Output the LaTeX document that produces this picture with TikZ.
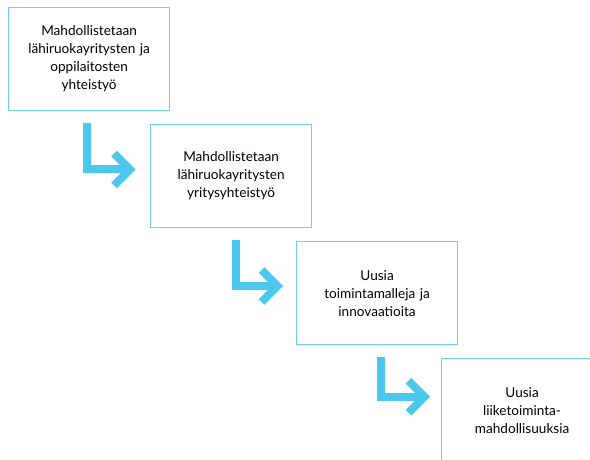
\documentclass[tikz,border=0pt]{standalone}
\usepackage{fontspec}
\setmainfont{Lato}
\definecolor{boxblue}{RGB}{110,208,242}
\definecolor{arrblue}{RGB}{76,200,238}
\begin{document}
\begin{tikzpicture}[x=1pt,y=-1pt,
  stepbox/.style={draw=boxblue,line width=1.2pt,fill=white,minimum width=161pt,minimum height=103pt,
    text width=150pt,align=center,inner sep=0pt,font=\fontsize{13.6}{18}\selectfont,anchor=north west},
  elbowline/.style={draw=arrblue,line width=8pt},
  chevron/.style={draw=arrblue,line width=8pt,miter limit=10}]
\useasboundingbox (0,0) rectangle (590,460);
\clip (0,0) rectangle (590,460);
\node[stepbox] (b1) at (8,7) {Mahdollistetaan\\lähiruokayritysten ja\\oppilaitosten\\yhteistyö};
\node[stepbox] (b2) at (150,124) {Mahdollistetaan\\lähiruokayritysten\\yritysyhteistyö};
\node[stepbox] (b3) at (296,241) {Uusia\\toimintamalleja ja\\innovaatioita};
\node[stepbox] (b4) at (441,358) {Uusia\\liiketoiminta-\\mahdollisuuksia};
% arrows
\coordinate (a1s) at (86.7,123);
\coordinate (a1c) at (86.7,169.5);
\coordinate (a1t) at (130,169.5);
\draw[elbowline] (a1s) -- (a1c) -- (a1t);
\draw[chevron] ([shift={(-16,-16)}]a1t) -- (a1t) -- ([shift={(-16,16)}]a1t);
\coordinate (a2s) at (235.5,240);
\coordinate (a2c) at (235.5,286);
\coordinate (a2t) at (277.5,286);
\draw[elbowline] (a2s) -- (a2c) -- (a2t);
\draw[chevron] ([shift={(-16,-16)}]a2t) -- (a2t) -- ([shift={(-16,16)}]a2t);
\coordinate (a3s) at (381,356.7);
\coordinate (a3c) at (381,396.7);
\coordinate (a3t) at (424.5,396.7);
\draw[elbowline] (a3s) -- (a3c) -- (a3t);
\draw[chevron] ([shift={(-16,-16)}]a3t) -- (a3t) -- ([shift={(-16,16)}]a3t);
\end{tikzpicture}
\end{document}
